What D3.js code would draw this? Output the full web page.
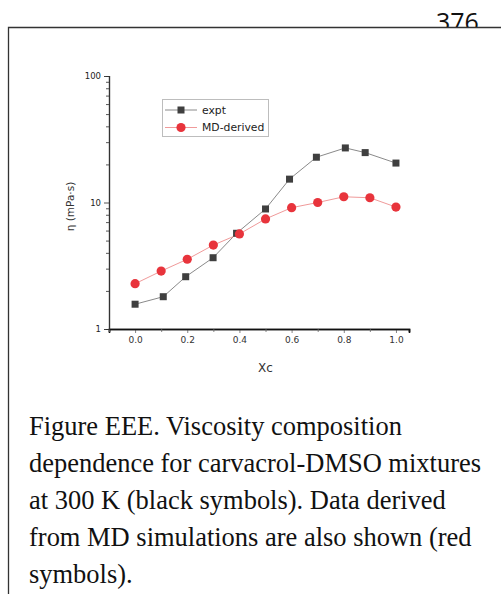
<!DOCTYPE html>
<html>
<head>
<meta charset="utf-8">
<script src="https://cdn.jsdelivr.net/npm/d3@7"></script>
<style>
  html, body { margin: 0; padding: 0; background: #fff; }
  svg { display: block; }
</style>
</head>
<body>
<svg id="page" width="501" height="594"></svg>
<script>
// Mole fraction of carvacrol
const xcExpt = [0.0, 0.108, 0.194, 0.299, 0.389, 0.5, 0.592, 0.695, 0.806, 0.882, 1.0];
const xcMD   = [0.0, 0.1, 0.2, 0.3, 0.4, 0.5, 0.6, 0.7, 0.8, 0.9, 1.0];
// Viscosity, mPa·s
const etaExpt = [1.57, 1.80, 2.59, 3.66, 5.71, 8.89, 15.3, 22.8, 27.0, 24.8, 20.5];
const etaMD   = [2.28, 2.87, 3.56, 4.61, 5.64, 7.41, 9.10, 10.0, 11.1, 10.9, 9.2];

const xTicks = [0.0, 0.2, 0.4, 0.6, 0.8, 1.0];
const xMinorTicks = [-0.1, 0.1, 0.3, 0.5, 0.7, 0.9];
const yTicks = [1, 10, 100];
const legendLabels = ["expt", "MD-derived"];
const captionLines = [
  "Figure EEE. Viscosity composition",
  "dependence for carvacrol-DMSO mixtures",
  "at 300 K (black symbols). Data derived",
  "from MD simulations are also shown (red",
  "symbols)."
];
const pageNumber = "376";

const svg = d3.select("#page");
const plotFont = "'DejaVu Sans', 'Noto Sans', sans-serif";

// Page number, partly hidden behind the figure frame
svg.append("text")
  .attr("x", 436).attr("y", 31)
  .attr("font-family", "'Open Sans', sans-serif")
  .attr("font-size", 25)
  .attr("fill", "#111")
  .text(pageNumber);

svg.append("rect")
  .attr("x", 8.5).attr("y", 27.5)
  .attr("width", 520).attr("height", 600)
  .attr("fill", "#fff");
svg.append("path")
  .attr("d", "M8.5,594 V27.5 H501")
  .attr("fill", "none")
  .attr("stroke", "#333")
  .attr("stroke-width", 1.3);

// Scales
const x = d3.scaleLinear().domain([-0.1, 1.05]).range([109, 409]);
const y = d3.scaleLog().domain([1, 100]).range([329, 76]);

const g = svg.append("g");

// X axis
const xAxis = g.append("g").attr("transform", `translate(0,${y(1)})`);
xAxis.call(d3.axisBottom(x).tickValues(xTicks).tickFormat(d3.format(".1f")).tickSize(4).tickPadding(4));
xAxis.append("g").call(d3.axisBottom(x).tickValues(xMinorTicks).tickFormat("").tickSize(3));
xAxis.selectAll(".domain").attr("stroke", "#111").attr("stroke-width", 1.6);
xAxis.select("g").selectAll(".domain").remove();
xAxis.selectAll(".tick line").attr("stroke", "#666").attr("stroke-width", 0.8);
xAxis.selectAll(".tick text")
  .attr("font-family", plotFont).attr("font-size", 9).attr("fill", "#333");

// Y axis (log)
const yMinor = [];
[1, 10].forEach(dec => { for (let k = 2; k <= 9; k++) yMinor.push(dec * k); });
const yAxis = g.append("g").attr("transform", `translate(${x(-0.1)},0)`);
yAxis.call(d3.axisLeft(y).tickValues(yTicks).tickFormat(d3.format("d")).tickSize(5).tickPadding(3));
yAxis.append("g").call(d3.axisLeft(y).tickValues(yMinor).tickFormat("").tickSize(3));
yAxis.selectAll(".domain").attr("stroke", "#333").attr("stroke-width", 1.2);
yAxis.select("g").selectAll(".domain").remove();
yAxis.selectAll(".tick line").attr("stroke", "#444").attr("stroke-width", 0.9);
yAxis.selectAll(".tick text")
  .attr("font-family", plotFont).attr("font-size", 8.5).attr("fill", "#222");

// Axis titles
g.append("text")
  .attr("transform", `translate(74,${(y(1) + y(100)) / 2 + 4}) rotate(-90)`)
  .attr("text-anchor", "middle")
  .attr("font-family", plotFont).attr("font-size", 10.5).attr("fill", "#333")
  .text("η (mPa·s)");
g.append("text")
  .attr("x", x(0.5)).attr("y", 372)
  .attr("text-anchor", "middle")
  .attr("font-family", plotFont).attr("font-size", 12).attr("fill", "#333")
  .text("Xc");

// Series
const series = [
  { xs: xcExpt, ys: etaExpt, line: "#8a8a8a", mark: "#3f3f3f", shape: "square" },
  { xs: xcMD, ys: etaMD, line: "#f09a9a", mark: "#e8343c", shape: "circle" }
];
const lineGen = d3.line().x(d => x(d[0])).y(d => y(d[1]));

function drawMarker(sel, shape, color, cx, cy) {
  if (shape === "square") {
    sel.append("rect")
      .attr("x", cx - 3.5).attr("y", cy - 3.5)
      .attr("width", 7).attr("height", 7)
      .attr("fill", color);
  } else {
    sel.append("circle")
      .attr("cx", cx).attr("cy", cy).attr("r", 4.6)
      .attr("fill", color);
  }
}

series.forEach(s => {
  const pts = s.xs.map((v, i) => [v, s.ys[i]]);
  g.append("path")
    .datum(pts)
    .attr("d", lineGen)
    .attr("fill", "none")
    .attr("stroke", s.line)
    .attr("stroke-width", 1);
});
series.forEach(s => {
  const grp = g.append("g");
  s.xs.forEach((v, i) => drawMarker(grp, s.shape, s.mark, x(v), y(s.ys[i])));
});

// Legend
const leg = g.append("g");
leg.append("rect")
  .attr("x", 162.5).attr("y", 99.5)
  .attr("width", 106).attr("height", 37)
  .attr("fill", "#fff")
  .attr("stroke", "#bdbdbd").attr("stroke-width", 1);
legendLabels.forEach((lab, i) => {
  const s = series[i];
  const ly = 110 + i * 17.5;
  leg.append("line")
    .attr("x1", 165).attr("x2", 197)
    .attr("y1", ly).attr("y2", ly)
    .attr("stroke", s.line).attr("stroke-width", 1);
  drawMarker(leg, s.shape, s.mark, 181, ly);
  leg.append("text")
    .attr("x", 202).attr("y", ly + 3.5)
    .attr("font-family", plotFont).attr("font-size", 10.8).attr("fill", "#222")
    .text(lab);
});

// Caption: size the serif text so the widest line fills the column
const cap = svg.append("g");
const capText = captionLines.map((t, i) =>
  cap.append("text")
    .attr("x", 29).attr("y", 435 + i * 37)
    .attr("font-family", "'Liberation Serif', 'DejaVu Serif', serif")
    .attr("font-size", 23)
    .attr("fill", "#111")
    .text(t));
const widest = d3.max(capText, t => t.node().getComputedTextLength());
const capSize = 23 * 452 / widest;
capText.forEach(t => t.attr("font-size", capSize.toFixed(2)));
</script>
</body>
</html>
